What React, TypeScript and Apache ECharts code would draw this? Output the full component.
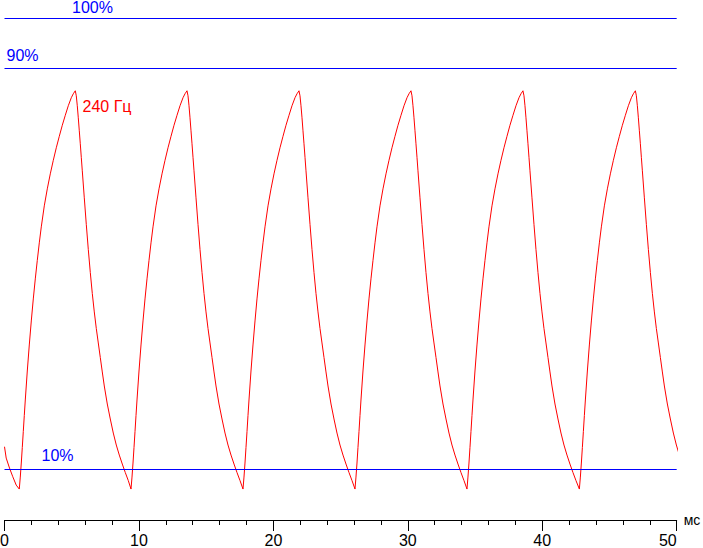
import React, { useEffect, useRef } from "react";
import * as echarts from "echarts";

// Reference levels (percent of full brightness)
const levelLines = [100, 90, 10];
const levelLabels = ["100%", "90%", "10%"];
const seriesLabel = "240 Гц";

// X axis (ms)
const xMin = 0;
const xMax = 50;
const xInterval = 10;
const xName = "мс";

// Start of the trace before the first minimum (ms, %)
const leadInTimes = [0, 0.126, 0.372, 0.618, 0.871];
const leadInLevels = [14.51, 12.25, 10.26, 8.52, 6.86];

// Times of the minima of each pulse (ms)
const troughTimes = [1.1, 9.41, 17.74, 26.07, 34.4, 42.76];

// One pulse: rise from minimum to peak (offset ms, %)
const riseOffsets = [
  0, 0.074, 0.149, 0.223, 0.298, 0.372, 0.446, 0.595, 0.744, 0.893, 1.041, 1.19,
  1.339, 1.488, 1.636, 1.86, 2.083, 2.306, 2.529, 2.752, 2.975, 3.198, 3.422,
  3.645, 3.868, 4.017, 4.165,
];
const riseLevels = [
  6.07, 8.46, 11.26, 14.35, 17.54, 20.73, 23.83, 29.61, 34.8, 39.59, 43.98,
  47.98, 51.67, 55.16, 58.35, 62.54, 65.93, 68.92, 71.62, 74.12, 76.41, 78.61,
  80.6, 82.5, 84.1, 84.89, 85.49,
];
// ...and decay from peak towards the next minimum
const fallOffsets = [
  4.24, 4.314, 4.389, 4.463, 4.537, 4.612, 4.686, 4.835, 4.984, 5.132, 5.281,
  5.43, 5.579, 5.727, 5.876, 6.025, 6.174, 6.323, 6.546, 6.769, 6.992, 7.215,
  7.438, 7.661, 7.885, 8.108,
];
const fallLevels = [
  84.49, 82.5, 80.1, 77.51, 74.92, 72.22, 69.53, 64.14, 58.85, 53.86, 49.27,
  45.08, 41.39, 38.1, 35.2, 32.31, 29.42, 26.62, 23.03, 20.04, 17.24, 14.85,
  12.85, 11.06, 9.36, 7.76,
];

const BLUE = "#0000ff";
const RED = "#ff0000";

function buildTrace(): [number, number][] {
  const pts: [number, number][] = [];
  leadInTimes.forEach((t, i) => pts.push([t, leadInLevels[i]]));
  troughTimes.forEach((t0) => {
    riseOffsets.forEach((o, i) => pts.push([t0 + o, riseLevels[i]]));
    fallOffsets.forEach((o, i) => pts.push([t0 + o, fallLevels[i]]));
  });
  return pts;
}

export default function App() {
  const ref = useRef<HTMLDivElement>(null);
  useEffect(() => {
    if (!ref.current) return;
    const chart = echarts.init(ref.current, undefined, { renderer: "svg" });
    const textFont = "'Liberation Sans', Arial, sans-serif";
    const option: any = {
      animation: false,
      backgroundColor: "#ffffff",
      grid: {
        left: 4.5,
        right: 26.3,
        top: 18,
        bottom: 28,
        containLabel: false,
        outerBoundsMode: "none",
      },
      xAxis: {
        type: "value",
        min: xMin,
        max: xMax,
        interval: xInterval,
        name: xName,
        nameLocation: "end",
        nameGap: 7,
        nameTextStyle: {
          color: "#000",
          fontSize: 14,
          fontFamily: textFont,
          padding: [9, 0, 0, 0],
        },
        axisLine: { show: true, onZero: false, lineStyle: { color: "#000", width: 1 } },
        axisTick: { show: true, inside: false, length: 11, lineStyle: { color: "#000", width: 1 } },
        minorTick: { show: true, splitNumber: 5, length: 5, lineStyle: { color: "#000", width: 1 } },
        splitLine: { show: false },
        minorSplitLine: { show: false },
        axisLabel: {
          color: "#000",
          fontSize: 16,
          fontFamily: "'Liberation Sans Narrow', 'Liberation Sans', Arial, sans-serif",
          margin: 12,
          alignMaxLabel: "right",
        },
      },
      yAxis: {
        type: "value",
        min: -0.1,
        max: 100,
        show: false,
        splitLine: { show: false },
      },
      series: [
        {
          type: "line",
          data: buildTrace(),
          showSymbol: false,
          symbol: "none",
          clip: true,
          lineStyle: { color: RED, width: 1 },
          markLine: {
            silent: true,
            symbol: ["none", "none"],
            label: { show: false },
            lineStyle: { color: BLUE, width: 1, type: "solid" },
            data: levelLines.map((v) => ({ yAxis: v })),
          },
        },
      ],
      graphic: [
        { type: "text", x: 72, y: 7, style: { text: levelLabels[0], fill: BLUE, font: `16px ${textFont}`, verticalAlign: "middle" } },
        { type: "text", x: 6.5, y: 55.5, style: { text: levelLabels[1], fill: BLUE, font: `16px ${textFont}`, verticalAlign: "middle" } },
        { type: "text", x: 41.5, y: 455.5, style: { text: levelLabels[2], fill: BLUE, font: `16px ${textFont}`, verticalAlign: "middle" } },
        { type: "text", x: 82.5, y: 106, style: { text: seriesLabel, fill: RED, font: `16px ${textFont}`, verticalAlign: "middle" } },
      ],
    };
    chart.setOption(option);
    return () => chart.dispose();
  }, []);
  return (
    <div
      ref={ref}
      style={{ position: "fixed", left: 0, top: 0, width: 703, height: 548, background: "#fff" }}
    />
  );
}
